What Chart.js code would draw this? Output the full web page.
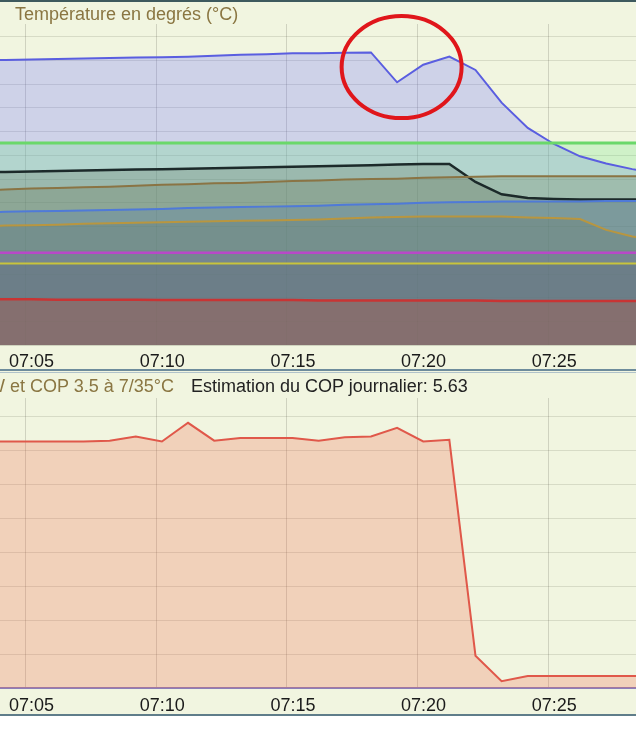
<!DOCTYPE html>
<html lang="fr">
<head>
<meta charset="utf-8">
<title>Température et puissance</title>
<script src="https://cdn.jsdelivr.net/npm/chart.js@4/dist/chart.umd.min.js"></script>
<style>
  body { margin: 0; width: 636px; height: 748px; position: relative; overflow: hidden; background: #fff;
         font-family: "Liberation Sans", Arial, sans-serif; }
  canvas { position: absolute; left: 0; background: #f1f5e0; }
  #temp { top: 0; }
  #puis { top: 374px; }
  .trait { position: absolute; left: 0; width: 636px; }
  .titre { position: absolute; font-size: 18px; line-height: 24px; white-space: nowrap; }
</style>
</head>
<body>
<canvas id="temp" width="636" height="378"></canvas>
<canvas id="puis" width="636" height="351"></canvas>
<div class="trait" style="top:715px;height:33px;background:#fff"></div>
<div class="trait" style="top:0;height:2px;background:#3e5a5e"></div>
<div class="trait" style="top:369px;height:2px;background:#6e8c9c"></div>
<div class="trait" style="top:372px;height:1px;background:#b0c2ca"></div>
<div class="trait" style="top:714px;height:2px;background:#5f7d8a"></div>
<div class="titre" style="top:2px;left:15px;color:#8a7642">Température en degrés (°C)</div>
<div class="titre" style="top:374px;left:-12px;color:#8a7642">W et COP 3.5 à 7/35°C</div>
<div class="titre" style="top:374px;left:191px;color:#222">Estimation du COP journalier: 5.63</div>
<script>
// Horodatage des mesures (une par minute)
const heures = ['07:03:13', '07:04:13', '07:05:13', '07:06:13', '07:07:13', '07:08:13', '07:09:13',
    '07:10:13', '07:11:13', '07:12:13', '07:13:13', '07:14:13', '07:15:13', '07:16:13', '07:17:13',
    '07:18:13', '07:19:13', '07:20:13', '07:21:13', '07:22:13', '07:23:13', '07:24:13', '07:25:13',
    '07:26:13', '07:27:13', '07:28:13', '07:29:13'];

// Températures (°C)
const tBleu = [60.0, 60.1, 60.2, 60.3, 60.4, 60.5, 60.6, 60.7, 60.8, 61.0, 61.2, 61.3, 61.5, 61.5,
    61.6, 61.7, 55.4, 59.1, 60.8, 58.0, 51.1, 45.8, 42.4, 39.8, 38.3, 37.1, 36.1];
const tVert = [42.6, 42.6, 42.6, 42.6, 42.6, 42.6, 42.6, 42.6, 42.6, 42.6, 42.6, 42.6, 42.6, 42.6,
    42.6, 42.6, 42.6, 42.6, 42.6, 42.6, 42.6, 42.6, 42.6, 42.6, 42.6, 42.6, 42.6];
const tNoir = [36.4, 36.5, 36.6, 36.7, 36.8, 36.9, 37.0, 37.1, 37.2, 37.3, 37.4, 37.5, 37.6, 37.7,
    37.8, 37.9, 38.1, 38.2, 38.2, 34.4, 31.8, 31.0, 30.8, 30.7, 30.7, 30.7, 30.7];
const tBrun = [32.7, 32.8, 33.0, 33.1, 33.3, 33.4, 33.6, 33.8, 33.9, 34.1, 34.2, 34.4, 34.6, 34.7,
    34.9, 35.0, 35.1, 35.3, 35.4, 35.5, 35.6, 35.6, 35.6, 35.6, 35.6, 35.6, 35.6];
const tBleuClair = [27.9, 28.1, 28.2, 28.3, 28.4, 28.5, 28.6, 28.7, 28.9, 29.0, 29.1, 29.2, 29.3, 29.4,
    29.6, 29.7, 29.8, 30.0, 30.1, 30.2, 30.3, 30.3, 30.3, 30.3, 30.4, 30.4, 30.4];
const tOr = [25.1, 25.2, 25.3, 25.4, 25.6, 25.7, 25.8, 25.9, 26.0, 26.1, 26.2, 26.3, 26.4, 26.5,
    26.7, 26.9, 27.0, 27.1, 27.1, 27.1, 27.1, 26.9, 26.8, 26.6, 24.3, 22.9, 22.1];
const tMagenta = [19.5, 19.5, 19.5, 19.5, 19.5, 19.5, 19.5, 19.5, 19.5, 19.5, 19.5, 19.5, 19.5, 19.5,
    19.5, 19.5, 19.5, 19.5, 19.5, 19.5, 19.5, 19.5, 19.5, 19.5, 19.5, 19.5, 19.5];
const tJaune = [17.2, 17.2, 17.2, 17.2, 17.2, 17.2, 17.2, 17.2, 17.2, 17.2, 17.2, 17.2, 17.2, 17.2,
    17.2, 17.2, 17.2, 17.2, 17.2, 17.2, 17.2, 17.2, 17.2, 17.2, 17.2, 17.2, 17.2];
const tRouge = [9.7, 9.7, 9.7, 9.6, 9.6, 9.6, 9.6, 9.5, 9.5, 9.5, 9.5, 9.5, 9.5, 9.4,
    9.4, 9.4, 9.4, 9.4, 9.4, 9.4, 9.3, 9.3, 9.3, 9.3, 9.3, 9.3, 9.3];

// Puissance (W)
const puissance = [1450, 1450, 1450, 1450, 1450, 1455, 1480, 1450, 1560, 1455, 1470, 1470, 1470, 1455,
    1475, 1480, 1530, 1450, 1460, 190, 40, 70, 70, 70, 70, 70, 70];

// Graduations de l'axe du temps (minutes après 07:00)
const ticksMinutes = [5, 10, 15, 20, 25];
const ticksLabels = ['07:05', '07:10', '07:15', '07:20', '07:25'];

const FOND = '#f1f5e0';
const POLICE = '"Liberation Sans", Arial, sans-serif';

function enMinutes(h) {
    const [hh, mm, ss] = h.split(':').map(Number);
    return (hh - 7) * 60 + mm + ss / 60;
}
const minutes = heures.map(enMinutes);

function serie(label, valeurs, ligne, remplissage, epaisseur) {
    return {
        label: label,
        data: valeurs.map((v, i) => ({ x: minutes[i], y: v })),
        borderColor: ligne,
        backgroundColor: remplissage,
        borderWidth: epaisseur,
        fill: 'origin',
        pointRadius: 0,
        tension: 0
    };
}

// Bandeau du titre qui masque le haut de la grille
const bandeau = {
    id: 'bandeau',
    beforeDatasetsDraw(chart, args, opts) {
        const ctx = chart.ctx;
        ctx.save();
        ctx.fillStyle = FOND;
        ctx.fillRect(0, 0, chart.width, opts.hauteur);
        ctx.restore();
    }
};

// Cercle rouge autour du creux de la courbe bleue
const cercle = {
    id: 'cercle',
    afterDatasetsDraw(chart) {
        const { ctx, scales: { x, y } } = chart;
        ctx.save();
        ctx.beginPath();
        ctx.ellipse(x.getPixelForValue(19.39), y.getPixelForValue(58.6), 60, 51, 0, 0, Math.PI * 2);
        ctx.strokeStyle = '#e0161b';
        ctx.lineWidth = 4;
        ctx.stroke();
        ctx.restore();
    }
};

function axeTemps(padding, bordure) {
    return {
        type: 'linear',
        min: 4.02,
        max: 28.36,
        afterBuildTicks: (scale) => { scale.ticks = ticksMinutes.map(v => ({ value: v })); },
        // pas de marge latérale : la zone de tracé occupe toute la largeur
        afterFit: (scale) => { scale.paddingLeft = 0; scale.paddingRight = 0; },
        grid: { color: 'rgba(70,70,60,0.2)', drawTicks: false },
        border: bordure,
        ticks: {
            padding: padding,
            labelOffset: 6,
            maxRotation: 0,
            autoSkip: false,
            color: '#1a1a1a',
            font: { family: POLICE, size: 18 },
            callback: (v, i) => ticksLabels[i]
        }
    };
}

function axeValeurs(max, pas) {
    return {
        min: 0,
        max: max,
        afterFit: (scale) => { scale.width = 0; },
        ticks: { display: false, stepSize: pas, padding: 0 },
        grid: { color: 'rgba(90,90,70,0.17)', drawTicks: false },
        border: { display: false }
    };
}

const optionsCommunes = {
    responsive: false,
    animation: false,
    events: []
};

// Graphique des températures
new Chart(document.getElementById('temp'), {
    type: 'line',
    data: {
        datasets: [
            serie('Rouge', tRouge, '#c83434', 'rgba(208,67,36,0.25)', 2.5),
            serie('Jaune', tJaune, '#c8c43c', 'rgba(78,103,109,0.25)', 2),
            serie('Magenta', tMagenta, '#b848c8', 'rgba(118,105,160,0.25)', 2.5),
            serie('Or', tOr, '#b89640', 'rgba(97,115,95,0.25)', 2),
            serie('Bleu clair', tBleuClair, '#4f7ad8', 'rgba(74,116,170,0.25)', 2),
            serie('Brun', tBrun, '#8a7444', 'rgba(100,117,78,0.25)', 2),
            serie('Noir', tNoir, '#1c2a2a', 'rgba(84,98,78,0.25)', 2.5),
            serie('Vert', tVert, '#6ad86a', 'rgba(102,226,128,0.25)', 3),
            serie('Bleu', tBleu, '#5a5ee0', 'rgba(101,105,255,0.25)', 2)
        ]
    },
    options: {
        ...optionsCommunes,
        layout: { padding: { top: 13, left: 0, right: 0, bottom: 0 } },
        plugins: {
            legend: { display: false },
            tooltip: { enabled: false },
            filler: { drawTime: 'beforeDatasetsDraw' },
            bandeau: { hauteur: 24 }
        },
        scales: {
            x: axeTemps(5.6, { display: false }),
            y: axeValeurs(70, 5)
        }
    },
    plugins: [bandeau, cercle]
});

// Graphique de la puissance
new Chart(document.getElementById('puis'), {
    type: 'line',
    data: {
        datasets: [
            serie('Puissance', puissance, '#e0584a', 'rgba(240,100,70,0.25)', 2)
        ]
    },
    options: {
        ...optionsCommunes,
        layout: { padding: { top: 8, left: 0, right: 0, bottom: 0 } },
        plugins: {
            legend: { display: false },
            tooltip: { enabled: false },
            bandeau: { hauteur: 24 }
        },
        scales: {
            x: axeTemps(7.7, { display: true, color: '#8c7fba', width: 2 }),
            y: axeValeurs(1800, 200)
        }
    },
    plugins: [bandeau]
});
</script>
</body>
</html>
